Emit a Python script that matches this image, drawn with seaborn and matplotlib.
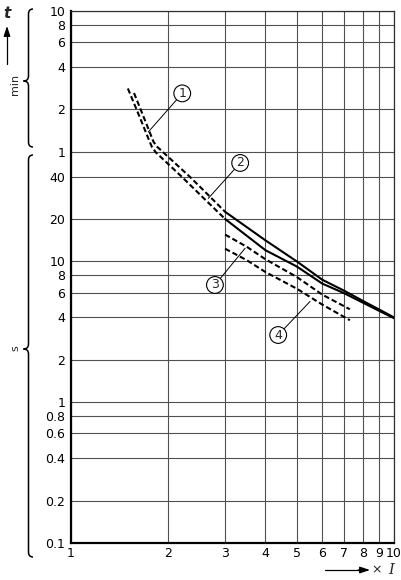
import pandas as pd
import seaborn as sns
from matplotlib import pyplot as plt
from matplotlib.path import Path
from matplotlib.patches import PathPatch
from matplotlib.ticker import NullLocator

# ------------------------------------------------- #
# trip curves, x = multiple of set current, t in seconds
# upper pair: dashed below 3 x I, solid from 3 x I on
x_up_dash = [1.567, 1.70, 1.80, 1.85, 2.0, 2.33, 2.6, 3.0]
t_up_dash = [157, 98.6, 70.8, 65, 55.2, 40, 31.2, 22.5]
x_lo_dash = [1.50, 1.64, 1.74, 1.78, 1.83, 2.2, 2.6, 3.0]
t_lo_dash = [169, 103, 73.6, 65, 59.5, 40, 27.5, 20]

x_solid = [3, 4, 5, 6, 7, 8, 9, 10]
t_up_solid = [22.5, 14.1, 10.0, 7.4, 6.2, 5.25, 4.55, 4.0]
t_lo_solid = [20, 12.0, 9.2, 6.95, 5.95, 5.1, 4.45, 3.95]

# curves 3 and 4 (dashed)
x_c34 = [3, 3.5, 4, 5, 6, 7.3]
t_c3 = [15.5, 12.7, 10.35, 7.75, 5.8, 4.57]
t_c4 = [12.3, 10.2, 8.4, 6.4, 4.93, 3.82]

x_ticks = [1, 2, 3, 4, 5, 6, 7, 8, 9, 10]
sec_ticks = [0.1, 0.2, 0.4, 0.6, 0.8, 1, 2, 4, 6, 8, 10, 20, 40]
min_ticks = [1, 2, 4, 6, 8, 10]
# ------------------------------------------------- #

sns.set_style("white")
plt.rcParams['font.family'] = ['Liberation Sans Narrow', 'DejaVu Sans']

W, H = 402, 580
fig = plt.figure(figsize=(W / 100, H / 100), dpi=100)
ax = fig.add_axes([71 / W, 37 / H, 323 / W, 532 / H])
ax.set_xscale('log')
ax.set_yscale('log')

dash = (0, (2.6, 1.4))
segments = [
    (x_up_dash, t_up_dash, dash),
    (x_lo_dash, t_lo_dash, dash),
    (x_solid, t_up_solid, '-'),
    (x_solid, t_lo_solid, '-'),
    (x_c34, t_c3, dash),
    (x_c34, t_c4, dash),
]
for xs, ts, style in segments:
    df = pd.DataFrame({'x': xs, 't': ts})
    sns.lineplot(data=df, x='x', y='t', ax=ax, color='black', lw=1.5,
                 ls=style, sort=False, zorder=3)

ax.set_xlim(1, 10)
ax.set_ylim(0.1, 600)
ax.set_xticks(x_ticks)
ax.set_xticklabels([str(v) for v in x_ticks])
ax.set_yticks(sec_ticks + [m * 60 for m in min_ticks])
ax.set_yticklabels(['%g' % v for v in sec_ticks] + [str(m) for m in min_ticks])
ax.xaxis.set_minor_locator(NullLocator())
ax.yaxis.set_minor_locator(NullLocator())
ax.tick_params(length=0, pad=4, labelsize=9, colors='black')
ax.tick_params(axis='x', pad=3)
ax.set_xlabel('')
ax.set_ylabel('')
ax.grid(True, which='major', color='#505050', lw=0.8)
for side in ['left', 'bottom']:
    ax.spines[side].set_linewidth(1.6)
    ax.spines[side].set_color('black')
for side in ['top', 'right']:
    ax.spines[side].set_linewidth(0.9)
    ax.spines[side].set_color('#303030')

# numbered callouts
callouts = [('1', (1.735, 83), (2.21, 156)),
            ('2', (2.66, 28), (3.34, 50)),
            ('3', (3.46, 12.4), (2.79, 6.8)),
            ('4', (5.5, 5.2), (4.38, 3.0))]
for lab, xy, xyt in callouts:
    ax.annotate(lab, xy=xy, xytext=xyt, ha='center', va='center', fontsize=9,
                bbox=dict(boxstyle='circle,pad=0.15', fc='white', ec='black', lw=0.8),
                arrowprops=dict(arrowstyle='-', lw=0.7, color='black',
                                shrinkA=0, shrinkB=0), zorder=5)


def px(x, y):
    return (x / W, 1 - y / H)


def brace(xv, xr, xt, y0, y1, ym):
    pts = [(xr, y0), (xv, y0), (xv, y0 + 5), (xv, ym - 5), (xv, ym), (xt, ym),
           (xv, ym), (xv, ym + 5), (xv, y1 - 5), (xv, y1), (xr, y1)]
    codes = [Path.MOVETO, Path.CURVE3, Path.CURVE3, Path.LINETO, Path.CURVE3,
             Path.CURVE3, Path.CURVE3, Path.CURVE3, Path.LINETO, Path.CURVE3,
             Path.CURVE3]
    p = Path([px(*q) for q in pts], codes)
    fig.patches.append(PathPatch(p, fc='none', ec='black', lw=1.1,
                                 transform=fig.transFigure))


brace(28.5, 33, 23.5, 9, 147, 81)
brace(28.5, 33, 23.5, 155, 557, 349)

fig.text(*px(15, 84), 'min', rotation=90, ha='center', va='center', fontsize=8)
fig.text(*px(15, 348), 's', rotation=90, ha='center', va='center', fontsize=8)
fig.text(*px(7, 13), 't', ha='center', va='center', fontsize=11,
         style='italic', weight='bold')
fig.add_artist(plt.Line2D([7 / W, 7 / W], [1 - 64 / H, 1 - 34 / H],
                          color='black', lw=0.9, transform=fig.transFigure))
ax.annotate('', xy=px(7, 26), xytext=px(7, 36), xycoords='figure fraction',
            textcoords='figure fraction',
            arrowprops=dict(arrowstyle='-|>,head_length=0.6,head_width=0.2',
                            color='black', lw=0.9, shrinkA=0, shrinkB=0))

ya = 570
fig.add_artist(plt.Line2D([325 / W, 360 / W], [1 - ya / H, 1 - ya / H],
                          color='black', lw=0.9, transform=fig.transFigure))
ax.annotate('', xy=px(370, ya), xytext=px(358, ya), xycoords='figure fraction',
            textcoords='figure fraction',
            arrowprops=dict(arrowstyle='-|>,head_length=0.6,head_width=0.2',
                            color='black', lw=0.9, shrinkA=0, shrinkB=0))
fig.text(*px(377, ya), '×', ha='center', va='center', fontsize=9)
fig.text(*px(391, ya), 'I', ha='center', va='center', fontsize=10.5,
         family='DejaVu Serif', style='italic')

fig.savefig('out.png', dpi=100)
